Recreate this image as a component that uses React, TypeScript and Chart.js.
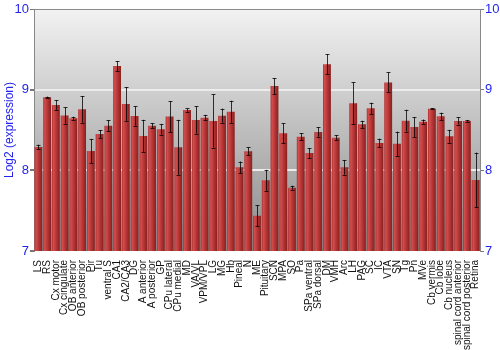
import React, { useEffect, useRef } from "react";
import { Chart, registerables } from "chart.js";

Chart.register(...registerables);

const labels = [
  "LS", "RS", "Cx motor", "Cx cingulate", "OB anterior", "OB posterior", "Pir", "Tu",
  "ventral S", "CA1", "CA2/CA3", "DG", "A anterior", "A posterior", "GP", "CPu lateral",
  "CPu medial", "MD", "VA/VL", "VPM/VPL", "LG", "MG", "Hb", "Pineal", "N", "ME",
  "Pituitary", "SCN", "MPA", "SO", "Pa", "SPa ventral", "SPa dorsal", "DM", "VMH", "Arc",
  "LH", "PAG", "SC", "IC", "VTA", "SN", "Tg", "Pn", "MVe", "Cb vermis", "Cb lobe",
  "Cb nucleus", "spinal cord anterior", "spinal cord posterior", "Retina",
];

const values = [
  8.29, 8.905, 8.81, 8.68, 8.645, 8.757, 8.24, 8.45,
  8.553, 9.293, 8.822, 8.674, 8.426, 8.553, 8.51, 8.666,
  8.286, 8.748, 8.624, 8.653, 8.612, 8.678, 8.727, 8.037, 8.236, 7.438,
  7.876, 9.045, 8.459, 7.785, 8.417, 8.215, 8.475, 9.314, 8.405, 8.037,
  8.831, 8.57, 8.769, 8.339, 9.09, 8.33, 8.616, 8.537, 8.603, 8.764, 8.67,
  8.422, 8.612, 8.612, 7.88,
];

const errors = [
  0.03, 0.01, 0.06, 0.1, 0.02, 0.165, 0.15, 0.05,
  0.07, 0.06, 0.21, 0.12, 0.2, 0.03, 0.066, 0.19,
  0.34, 0.02, 0.17, 0.035, 0.33, 0.087, 0.136, 0.072, 0.05, 0.13,
  0.13, 0.1, 0.124, 0.025, 0.045, 0.06, 0.06, 0.124, 0.03, 0.09,
  0.26, 0.045, 0.07, 0.055, 0.124, 0.15, 0.135, 0.124, 0.027, 0.005, 0.045,
  0.08, 0.045, 0.01, 0.34,
];

const yTicks = [7, 8, 9, 10];
const yTitle = "Log2 (expression)";

const FONT = "'Liberation Sans', Arial, sans-serif";
const BLUE = "#2424f0";
const BAR_PCT = 0.9;

const backgroundPlugin = {
  id: "bgGradient",
  beforeDraw(chart: any) {
    const { ctx, chartArea } = chart;
    if (!chartArea) return;
    const g = ctx.createLinearGradient(0, chartArea.top, 0, chartArea.bottom);
    g.addColorStop(0, "#f2f2f2");
    g.addColorStop(1, "#8a8a8a");
    ctx.save();
    ctx.fillStyle = g;
    ctx.fillRect(chartArea.left, chartArea.top, chartArea.right - chartArea.left, chartArea.bottom - chartArea.top);
    ctx.restore();
  },
};

const errorBarPlugin = {
  id: "errorBars",
  afterDatasetsDraw(chart: any) {
    const { ctx } = chart;
    const xs = chart.scales.x;
    const ys = chart.scales.y;
    ctx.save();
    ctx.strokeStyle = "rgba(0,0,0,0.78)";
    ctx.lineWidth = 1;
    values.forEach((v, i) => {
      const e = errors[i];
      const x = Math.round(xs.getPixelForValue(i)) + 0.5;
      const y1 = ys.getPixelForValue(v + e);
      const y2 = ys.getPixelForValue(v - e);
      ctx.beginPath();
      ctx.moveTo(x, y1);
      ctx.lineTo(x, y2);
      ctx.moveTo(x - 2, Math.round(y1) + 0.5);
      ctx.lineTo(x + 2, Math.round(y1) + 0.5);
      ctx.moveTo(x - 2, Math.round(y2) + 0.5);
      ctx.lineTo(x + 2, Math.round(y2) + 0.5);
      ctx.stroke();
    });
    ctx.restore();
  },
};

export default function App() {
  const ref = useRef<HTMLCanvasElement | null>(null);

  useEffect(() => {
    document.body.style.margin = "0";
    const canvas = ref.current;
    if (!canvas) return;

    const gridColor = (c: any) =>
      c.tick && c.tick.value === 10 ? "#8a8a8a" : c.tick && c.tick.value === 7 ? "rgba(0,0,0,0)" : "#ececec";
    const gridWidth = (c: any) => (c.tick && c.tick.value === 10 ? 1 : 2);

    const chart = new Chart(canvas, {
      type: "bar",
      data: {
        labels,
        datasets: [
          {
            data: values,
            barPercentage: BAR_PCT,
            categoryPercentage: 1,
            borderWidth: 0,
            backgroundColor: (c: any) => {
              const ch = c.chart;
              const xs = ch.scales && ch.scales.x;
              if (!xs || c.type !== "data") return "#b83232";
              const cx = xs.getPixelForValue(c.dataIndex);
              const w = (xs.width / labels.length) * BAR_PCT;
              if (!isFinite(cx) || !isFinite(w) || w <= 0) return "#b83232";
              const g = ch.ctx.createLinearGradient(cx - w / 2, 0, cx + w / 2, 0);
              g.addColorStop(0, "#b03030");
              g.addColorStop(0.2, "#d04e4e");
              g.addColorStop(0.5, "#bc3838");
              g.addColorStop(1, "#862020");
              return g;
            },
          },
        ],
      },
      options: {
        responsive: false,
        animation: false,
        layout: { padding: { top: 9, left: 0, right: 0, bottom: 0 } },
        plugins: {
          legend: { display: false },
          tooltip: { enabled: false },
        },
        scales: {
          x: {
            grid: { display: false },
            border: { display: false },
            ticks: {
              autoSkip: false,
              minRotation: 90,
              maxRotation: 90,
              padding: 1,
              color: "#111",
              font: { family: FONT, size: 10 },
            },
            afterFit(scale: any) {
              scale.height = 99;
            },
          },
          y: {
            position: "left",
            min: 7,
            max: 10,
            afterBuildTicks(scale: any) {
              scale.ticks = yTicks.map((v) => ({ value: v }));
            },
            grid: { color: gridColor, lineWidth: gridWidth, tickColor: "#777", tickLength: 4, drawTicks: true },
            border: { display: true, color: "#888", width: 1 },
            ticks: { color: BLUE, padding: 1, font: { family: FONT, size: 13 } },
            title: { display: true, text: yTitle, color: BLUE, padding: { top: 2, bottom: 2 }, font: { family: FONT, size: 12 } },
            afterFit(scale: any) {
              scale.width = 34;
            },
          },
          y2: {
            position: "right",
            min: 7,
            max: 10,
            afterBuildTicks(scale: any) {
              scale.ticks = yTicks.map((v) => ({ value: v }));
            },
            grid: { drawOnChartArea: false, tickColor: "#777", tickLength: 4 },
            border: { display: true, color: "#888", width: 1 },
            ticks: { color: BLUE, padding: 1, font: { family: FONT, size: 13 } },
            afterFit(scale: any) {
              scale.width = 20;
            },
          },
        },
      },
      plugins: [backgroundPlugin, errorBarPlugin],
    } as any);

    return () => chart.destroy();
  }, []);

  return (
    <div style={{ position: "absolute", left: 0, top: 0, width: 500, height: 350 }}>
      <canvas ref={ref} width={500} height={350} style={{ display: "block", width: 500, height: 350 }} />
    </div>
  );
}
